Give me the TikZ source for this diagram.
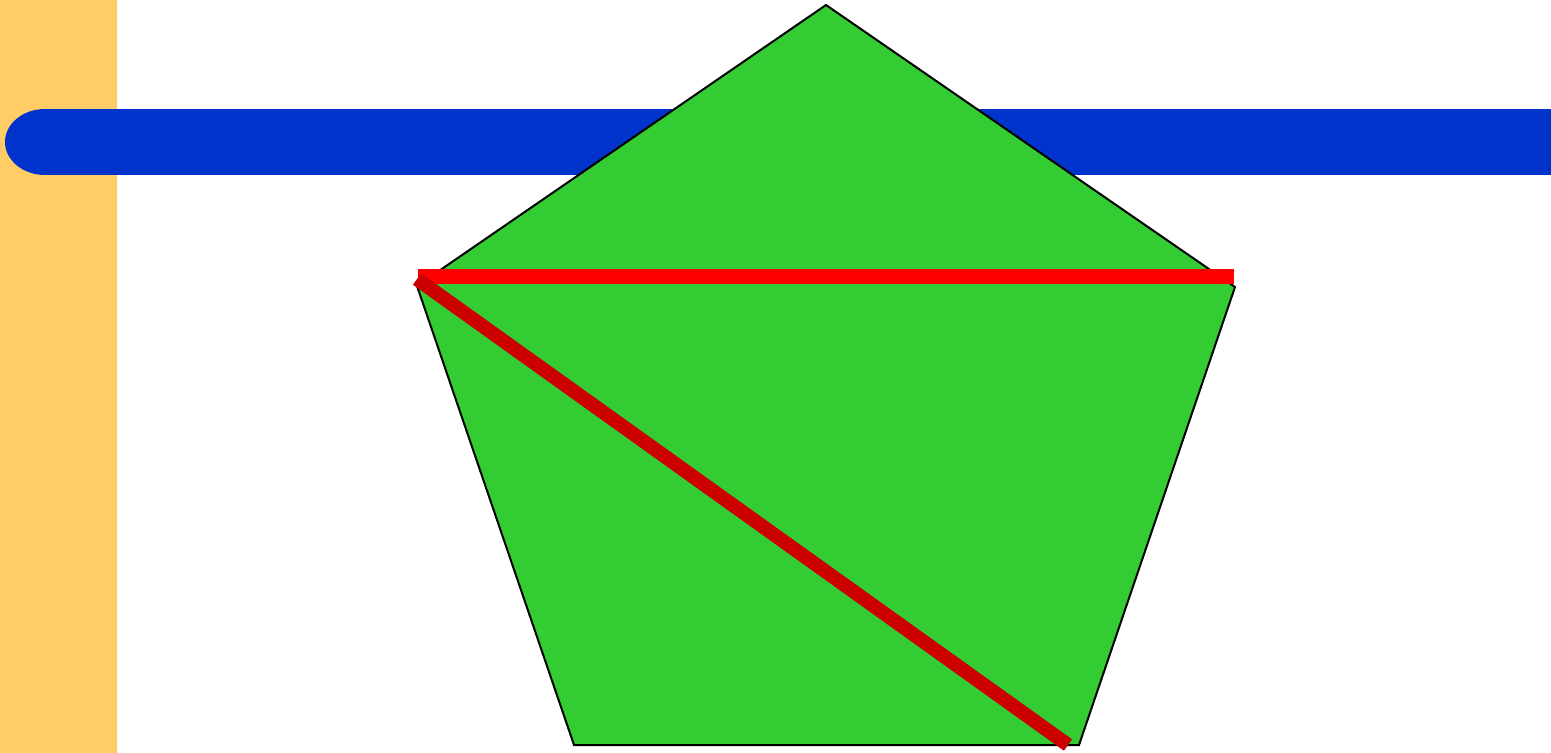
\documentclass[tikz,border=0pt]{standalone}
\definecolor{bandyellow}{HTML}{FFCC66}
\definecolor{barblue}{HTML}{0033CC}
\definecolor{pentgreen}{HTML}{33CC33}
\definecolor{linered}{HTML}{FF0000}
\definecolor{darkred}{HTML}{CC0000}
\begin{document}
\begin{tikzpicture}[x=0.5pt,y=-0.5pt,
  band/.style={fill=bandyellow,draw=none},
  bar/.style={fill=barblue,draw=none},
  pent/.style={fill=pentgreen,draw=black,line width=1pt,line join=miter},
  redline/.style={draw=linered,line width=7.5pt,line cap=butt},
  diagline/.style={draw=darkred,line width=7pt,line cap=butt}]
\useasboundingbox (0,0) rectangle (1551,753);
% left band
\fill[band] (0,0) rectangle (117,753);
% blue bar with rounded left end
\fill[bar] (45,109) rectangle (1551,175);
\fill[bar] (45,142) ellipse [x radius=40, y radius=33];
% pentagon
\coordinate (top) at (826,5);
\coordinate (right) at (1235,287);
\coordinate (bright) at (1079,745);
\coordinate (bleft) at (574,745);
\coordinate (left) at (417,286);
\draw[pent] (top) -- (right) -- (bright) -- (bleft) -- (left) -- cycle;
% red lines
\coordinate (h1) at (418,276.5);
\coordinate (h2) at (1234,276.5);
\draw[redline] (h1) -- (h2);
\coordinate (d1) at (417,279);
\coordinate (d2) at (1068,745);
\draw[diagline] (d1) -- (d2);
\end{tikzpicture}
\end{document}
